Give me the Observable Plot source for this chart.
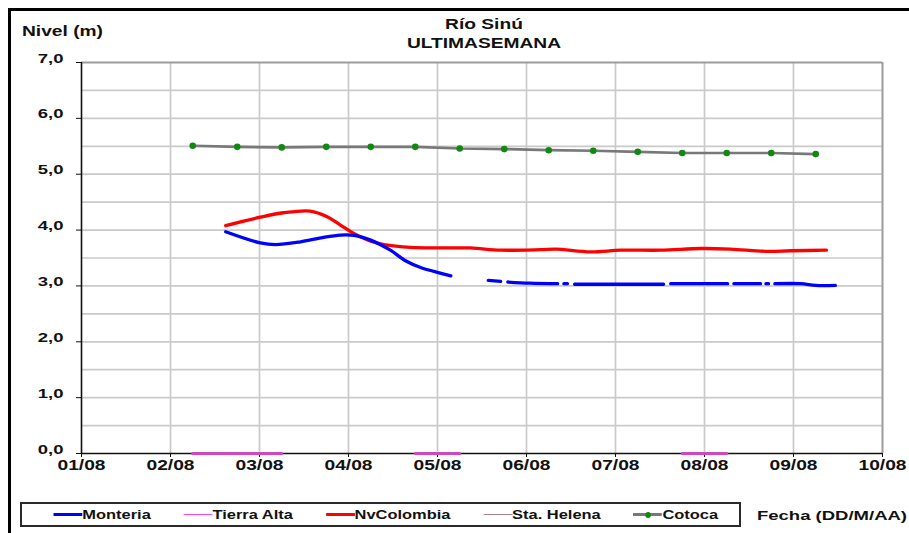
<!DOCTYPE html>
<html><head><meta charset="utf-8">
<script src="https://cdn.jsdelivr.net/npm/d3@7"></script>
<script src="https://cdn.jsdelivr.net/npm/@observablehq/plot@0.6"></script>
<style>
html,body{margin:0;padding:0;background:#fff;overflow:hidden;}
#wrap{position:relative;width:909px;height:533px;overflow:hidden;font-family:"Liberation Sans",Arial,sans-serif;font-weight:bold;color:#111;background:#fff;}
#frame{position:absolute;left:8px;top:8px;width:1000px;height:1000px;border:3px solid #000;z-index:5;pointer-events:none;}
#chart{position:absolute;left:0;top:0;}
.sx{position:absolute;white-space:nowrap;transform:scaleX(1.37);}
#title{left:334px;top:15px;width:300px;text-align:center;font-size:14px;line-height:19px;transform-origin:center top;}
#ylab{left:22px;top:23px;font-size:14px;line-height:16px;transform-origin:left center;}
#xlab{left:757px;top:508px;font-size:13.5px;line-height:16px;transform-origin:left center;}
#legend{position:absolute;left:20px;top:502px;width:721px;height:25px;box-sizing:border-box;border:2px solid #2a2a2a;}
#legin{display:flex;align-items:center;height:100%;padding-left:23px;gap:24px;transform:scaleX(1.37);transform-origin:left center;font-size:12px;}
.item{display:flex;align-items:center;}
.sw{width:21px;position:relative;}
.dot{position:absolute;left:8.3px;top:50%;width:4.4px;height:6px;margin-top:-3px;border-radius:50%;background:#118811;}
</style></head>
<body>
<div id="wrap">
  <div id="chart"></div>
  <div id="title" class="sx"></div>
  <div id="ylab" class="sx"></div>
  <div id="xlab" class="sx"></div>
  <div id="legend"><div id="legin"></div></div>
  <div id="frame"></div>
</div>
<script>
// ---- data ----
const titleLines = ["Río Sinú", "ULTIMASEMANA"];
const yTitle = "Nivel (m)";
const xTitle = "Fecha (DD/M/AA)";
const dayTicks = [1, 2, 3, 4, 5, 6, 7, 8, 9, 10];
const dayLabels = ["01/08", "02/08", "03/08", "04/08", "05/08", "06/08", "07/08", "08/08", "09/08", "10/08"];
const levelTicks = [0, 1, 2, 3, 4, 5, 6, 7];
const gridLevels = [0.5, 1, 1.5, 2, 2.5, 3, 3.5, 4, 4.5, 5, 5.5, 6, 6.5];

const seriesNames = ["Monteria", "Tierra Alta", "NvColombia", "Sta. Helena", "Cotoca"];
const seriesColors = ["#0000ff", "#ff44ff", "#ff0000", "#a88484", "#787878"];

const monteriaT = [2.62, 3.01, 3.18, 3.46, 3.69, 3.91, 4.08, 4.25, 4.47, 4.64, 4.81, 5.03, 5.15, 5.36,
  5.57, 5.71, 5.74, 5.79, 6.04, 6.35, 6.38, 6.42, 6.46, 6.50, 6.54, 7.06, 7.54, 7.58, 7.62, 8.26, 8.29,
  8.33, 8.63, 8.66, 8.69, 8.72, 8.75, 8.79, 9.08, 9.25, 9.47];
const monteriaNivel = [3.97, 3.77, 3.74, 3.79, 3.86, 3.91, 3.90, 3.82, 3.64, 3.45, 3.33, 3.23, 3.18, null,
  3.10, 3.08, null, 3.07, 3.05, 3.04, null, 3.04, 3.04, null, 3.03, 3.03, 3.03, null, 3.04, 3.04, null,
  3.04, 3.04, null, 3.04, 3.04, null, 3.04, 3.04, 3.01, 3.01];

const tierraAltaT = [2.25, 2.75, 3.25, 4.0, 4.75, 5.25, 6.5, 7.75, 8.25];
const tierraAltaNivel = [0, 0, 0, null, 0, 0, null, 0, 0];

const nvColombiaT = [2.62, 3.01, 3.27, 3.57, 3.76, 3.91, 4.06, 4.25, 4.40, 4.70, 5.03, 5.37, 5.71, 6.16, 6.33,
  6.72, 7.06, 7.51, 7.96, 8.29, 8.69, 8.97, 9.37];
const nvColombiaNivel = [4.08, 4.23, 4.31, 4.34, 4.24, 4.09, 3.94, 3.80, 3.74, 3.69, 3.68, 3.68, 3.64, 3.65, 3.66,
  3.61, 3.64, 3.64, 3.67, 3.66, 3.62, 3.63, 3.64];

const cotocaT = [2.25, 2.75, 3.25, 3.75, 4.25, 4.75, 5.25, 5.75, 6.25, 6.75, 7.25, 7.75, 8.25, 8.75, 9.25];
const cotocaNivel = [5.51, 5.49, 5.48, 5.49, 5.49, 5.49, 5.46, 5.45, 5.43, 5.42, 5.40, 5.38, 5.38, 5.38, 5.36];

// ---- build tables ----
const toRows = (T, V) => T.map((t, i) => ({t, v: V[i]}));
const monteria = toRows(monteriaT, monteriaNivel);
const tierraAlta = toRows(tierraAltaT, tierraAltaNivel);
const nvColombia = toRows(nvColombiaT, nvColombiaNivel);
const cotoca = toRows(cotocaT, cotocaNivel);

const SX = 1.37;
const fmtY = d => d.toFixed(1).replace(".", ",");

const chart = Plot.plot({
  width: 909, height: 490,
  marginLeft: 81, marginRight: 27, marginTop: 62, marginBottom: 37,
  style: {background: "transparent", fontFamily: "Liberation Sans, Arial, sans-serif", fontSize: "14px", fontWeight: "bold", color: "#111"},
  x: {domain: [1, 10], label: null},
  y: {domain: [0, 7], label: null},
  marks: [
    Plot.ruleX(dayTicks.slice(1, -1), {stroke: "#cacaca", strokeWidth: 1.7}),
    Plot.ruleY(gridLevels, {stroke: "#cacaca", strokeWidth: 1.7}),
    Plot.ruleY([7], {stroke: "#9c9c9c", strokeWidth: 2}),
    Plot.ruleX([10], {stroke: "#9c9c9c", strokeWidth: 2}),
    Plot.axisY({ticks: levelTicks, tickFormat: fmtY, tickSize: 5, tickPadding: 13, fontSize: 13.5, label: null, stroke: "#111"}),
    Plot.axisX({ticks: dayTicks, tickFormat: d => dayLabels[dayTicks.indexOf(d)], tickSize: 4, tickPadding: 12, label: null, stroke: "#111"}),
    Plot.ruleX([1], {stroke: "#111", strokeWidth: 1.6}),
    Plot.ruleY([0], {stroke: "#111", strokeWidth: 1.6}),
    Plot.line(tierraAlta, {x: "t", y: "v", stroke: "#d048c0", strokeWidth: 3}),
    Plot.line(cotoca, {x: "t", y: "v", stroke: seriesColors[4], strokeWidth: 2.7}),
    Plot.dot(cotoca, {x: "t", y: "v", fill: "#118811", r: 3.3}),
    Plot.line(nvColombia, {x: "t", y: "v", stroke: seriesColors[2], strokeWidth: 3.3, curve: "catmull-rom"}),
    Plot.line(monteria, {x: "t", y: "v", stroke: seriesColors[0], strokeWidth: 3.3, curve: "catmull-rom"})
  ]
});
document.getElementById("chart").appendChild(chart);

// horizontal stretch of svg text (reference text is horizontally stretched)
chart.querySelectorAll("text").forEach(t => {
  const x = +t.getAttribute("x") || 0, y = +t.getAttribute("y") || 0;
  t.removeAttribute("x"); t.removeAttribute("y");
  const tr = t.getAttribute("transform") || "";
  t.setAttribute("transform", `${tr} translate(${x},${y}) scale(${SX},1)`);
});

// titles
document.getElementById("title").innerHTML = titleLines.map(s => `<div>${s}</div>`).join("");
document.getElementById("ylab").textContent = yTitle;
document.getElementById("xlab").textContent = xTitle;

// legend
const swStyle = [
  {h: 3.5, c: seriesColors[0]},
  {h: 1.6, c: seriesColors[1]},
  {h: 3.5, c: seriesColors[2]},
  {h: 1.6, c: seriesColors[3]},
  {h: 2.5, c: seriesColors[4], dot: true}
];
const legin = document.getElementById("legin");
seriesNames.forEach((name, i) => {
  const s = swStyle[i];
  const item = document.createElement("div");
  item.className = "item";
  item.innerHTML = `<div class="sw" style="height:${s.h}px;background:${s.c}">${s.dot ? '<div class="dot"></div>' : ''}</div><span>${name}</span>`;
  legin.appendChild(item);
});
</script>
</body></html>
